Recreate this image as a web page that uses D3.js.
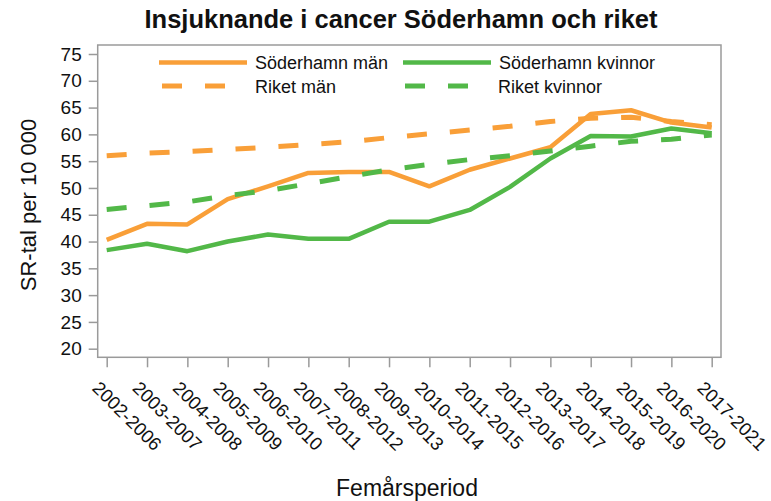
<!DOCTYPE html>
<html>
<head>
<meta charset="utf-8">
<script src="https://cdn.jsdelivr.net/npm/d3@7"></script>
<style>
  body { margin: 0; background: #fff; }
  text { font-family: "Liberation Sans", Arial, sans-serif; fill: #111; }
</style>
</head>
<body>
<div id="chart"></div>
<script>
// periods on the x axis
const periods = ["2002-2006", "2003-2007", "2004-2008", "2005-2009", "2006-2010", "2007-2011",
    "2008-2012", "2009-2013", "2010-2014", "2011-2015", "2012-2016", "2013-2017",
    "2014-2018", "2015-2019", "2016-2020", "2017-2021"];

// values
const soderhamnMan = [40.3, 43.3, 43.2, 47.9, 50.3, 52.8, 53.0, 53.0, 50.3, 53.4, 55.5, 57.6, 63.8, 64.5, 62.2, 61.3];
const soderhamnKvinnor = [38.4, 39.6, 38.2, 40.0, 41.3, 40.5, 40.5, 43.7, 43.7, 45.9, 50.2, 55.5, 59.7, 59.6, 61.1, 60.2];
const riketMan = [56.0, 56.5, 56.8, 57.2, 57.6, 58.1, 58.6, 59.4, 60.1, 60.8, 61.5, 62.4, 63.0, 63.2, 62.4, 61.8];
const riketKvinnor = [46.0, 46.7, 47.4, 48.6, 49.5, 50.8, 52.1, 53.4, 54.4, 55.3, 56.0, 56.9, 57.8, 58.7, 59.1, 59.9];

const yTicks = [20, 25, 30, 35, 40, 45, 50, 55, 60, 65, 70, 75];

const series = [
    {name: "Söderhamn män", values: soderhamnMan, color: "#F99F38", dash: null},
    {name: "Söderhamn kvinnor", values: soderhamnKvinnor, color: "#52B848", dash: null},
    {name: "Riket män", values: riketMan, color: "#F99F38", dash: "20,23"},
    {name: "Riket kvinnor", values: riketKvinnor, color: "#52B848", dash: "20,23"}
];

let width = 771, height = 501;
let svg = d3.select("#chart").append("svg")
    .attr("width", width)
    .attr("height", height);

let frame = {left: 97.7, right: 721, top: 45, bottom: 357.3};

let x = d3.scalePoint()
    .domain(periods)
    .range([106.7, 711.7]);
let y = d3.scaleLinear()
    .domain([20, 75])
    .range([348.7, 54]);

// frame
svg.append("rect")
    .attr("x", frame.left)
    .attr("y", frame.top)
    .attr("width", frame.right - frame.left)
    .attr("height", frame.bottom - frame.top)
    .attr("fill", "none")
    .attr("stroke", "#9a9a9a")
    .attr("stroke-width", 1.5);

// y axis
let yAxis = svg.append("g")
    .attr("transform", `translate(${frame.left},0)`)
    .call(d3.axisLeft(y).tickValues(yTicks).tickSize(9).tickPadding(7));
yAxis.select(".domain").remove();
yAxis.selectAll(".tick line").attr("stroke", "#9a9a9a").attr("stroke-width", 1.5);
yAxis.selectAll(".tick text")
    .style("font-family", "Liberation Sans, Arial, sans-serif")
    .style("font-size", "19px")
    .attr("fill", "#111");

// x axis
let xAxis = svg.append("g")
    .attr("transform", `translate(0,${frame.bottom})`)
    .call(d3.axisBottom(x).tickSize(10).tickSizeOuter(0));
xAxis.select(".domain").remove();
xAxis.selectAll(".tick line").attr("stroke", "#9a9a9a").attr("stroke-width", 1.5);
xAxis.selectAll(".tick text")
    .style("font-family", "Liberation Sans, Arial, sans-serif")
    .style("font-size", "18.5px")
    .attr("fill", "#111")
    .attr("text-anchor", "start")
    .attr("dy", null)
    .attr("y", null)
    .attr("transform", "translate(-16,32) rotate(45)");

// lines
let line = d3.line()
    .x((d, i) => x(periods[i]))
    .y(d => y(d));

svg.selectAll(".series")
    .data(series)
    .join("path")
    .attr("class", "series")
    .attr("d", d => line(d.values))
    .attr("fill", "none")
    .attr("stroke", d => d.color)
    .attr("stroke-width", d => d.dash ? 5 : 4.5)
    .attr("stroke-dasharray", d => d.dash)
    .attr("stroke-linejoin", "round");

// legend
let legendItems = [
    {s: series[0], x: 159, y: 62.5},
    {s: series[1], x: 403, y: 62.5},
    {s: series[2], x: 162, y: 86},
    {s: series[3], x: 405, y: 86}
];
let legend = svg.selectAll(".legend")
    .data(legendItems)
    .join("g")
    .attr("class", "legend")
    .attr("transform", d => `translate(${d.x},${d.y})`);
legend.append("line")
    .attr("x1", 0)
    .attr("x2", d => d.s.dash ? 66 : 88)
    .attr("y1", 0).attr("y2", 0)
    .attr("stroke", d => d.s.color)
    .attr("stroke-width", d => d.s.dash ? 5 : 4.5)
    .attr("stroke-dasharray", d => d.s.dash);
legend.append("text")
    .attr("x", d => d.s.dash ? 93 : 96)
    .attr("y", 6.5)
    .style("font-size", "18px")
    .text(d => d.s.name);

// title
svg.append("text")
    .attr("x", 401)
    .attr("y", 28)
    .attr("text-anchor", "middle")
    .style("font-size", "25.5px")
    .style("font-weight", "bold")
    .text("Insjuknande i cancer Söderhamn och riket");

// axis titles
svg.append("text")
    .attr("transform", "translate(36,205) rotate(-90)")
    .attr("text-anchor", "middle")
    .style("font-size", "22px")
    .text("SR-tal per 10 000");

svg.append("text")
    .attr("x", 407)
    .attr("y", 496)
    .attr("text-anchor", "middle")
    .style("font-size", "23px")
    .text("Femårsperiod");
</script>
</body>
</html>
